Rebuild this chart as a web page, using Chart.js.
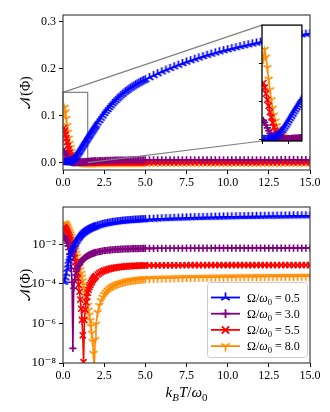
<!DOCTYPE html>
<html>
<head>
<meta charset="utf-8">
<script src="https://cdn.jsdelivr.net/npm/chart.js@4.4.0/dist/chart.umd.min.js"></script>
<style>
  html, body { margin: 0; padding: 0; background: #fff; }
  #wrap { position: relative; width: 330px; height: 412px; }
  canvas { position: absolute; }
  #top { left: 0; top: 0; }
  #bot { left: 0; top: 200px; }
  #ins { left: 252px; top: 19px; }
</style>
</head>
<body>
<div id="wrap">
  <canvas id="top" width="330" height="200"></canvas>
  <canvas id="bot" width="330" height="212"></canvas>
  <canvas id="ins" width="56" height="130"></canvas>
</div>
<script>
// temperature k_B T / w0
const kT = [
  0.05, 0.1, 0.15, 0.2, 0.25, 0.3, 0.35, 0.4, 0.45, 0.5,
  0.55, 0.6, 0.65, 0.7, 0.75, 0.8, 0.85, 0.9, 0.95, 1.0,
  1.05, 1.1, 1.15, 1.2, 1.25, 1.3, 1.35, 1.4, 1.45, 1.5,
  1.55, 1.6, 1.65, 1.7, 1.75, 1.8, 1.85, 1.9, 1.95, 2.0,
  2.1, 2.2, 2.3, 2.4, 2.5, 2.6, 2.7, 2.8, 2.9, 3.0,
  3.1, 3.2, 3.3, 3.4, 3.5, 3.6, 3.7, 3.8, 3.9, 4.0,
  4.1, 4.2, 4.3, 4.4, 4.5, 4.6, 4.7, 4.8, 4.9, 5.0,
  5.25, 5.5, 5.75, 6, 6.25, 6.5, 6.75, 7, 7.25, 7.5,
  7.75, 8, 8.25, 8.5, 8.75, 9, 9.25, 9.5, 9.75, 10,
  10.25, 10.5, 10.75, 11, 11.25, 11.5, 11.75, 12, 12.25, 12.5,
  12.75, 13, 13.25, 13.5, 13.75, 14, 14.25, 14.5, 14.75, 15
];

const omega = ['0.5', '3.0', '5.5', '8.0'];

// negativity N(Phi) for each Omega/w0
const negW05 = [
  1.2e-4, 1.4e-4, 2.0e-4, 3.2e-4, 5.5e-4, 9e-4, 1.4e-3, 2.0e-3, 2.8e-3, 3.8e-3,
  5.0e-3, 6.4e-3, 8.0e-3, 9.8e-3, 0.0118, 0.014, 0.0164, 0.019, 0.0218, 0.0248,
  0.0277, 0.0306, 0.0334, 0.0362, 0.039, 0.0418, 0.0446, 0.0474, 0.0502, 0.053,
  0.0557, 0.0584, 0.0611, 0.0638, 0.0665, 0.0692, 0.0719, 0.0746, 0.0773, 0.080,
  0.085, 0.090, 0.095, 0.100, 0.105, 0.1093, 0.1135, 0.1177, 0.1218, 0.126,
  0.1295, 0.133, 0.1365, 0.1398, 0.143, 0.146, 0.1489, 0.1517, 0.1544, 0.157,
  0.1593, 0.1616, 0.1638, 0.1659, 0.168, 0.170, 0.1719, 0.1737, 0.1754, 0.177,
  0.1815, 0.1858, 0.1899, 0.1938, 0.1976, 0.2012, 0.2047, 0.2081, 0.2114, 0.2146,
  0.2177, 0.2207, 0.2236, 0.2264, 0.2291, 0.2317, 0.2342, 0.2366, 0.2389, 0.2411,
  0.2433, 0.2454, 0.2475, 0.2495, 0.2515, 0.2534, 0.2553, 0.2571, 0.2589, 0.2606,
  0.2622, 0.2638, 0.2654, 0.2669, 0.2684, 0.2699, 0.2713, 0.2727, 0.2741, 0.2754
];
const negW30 = [
  0.025, 0.0225, 0.019, 0.0152, 0.0115, 0.0082, 0.0054, 0.0032, 0.0016, 6e-4,
  1.2e-4, 5.5e-8, 6e-5, 1.6e-4, 2.8e-4, 4.2e-4, 5.6e-4, 7e-4, 8.5e-4, 1.0e-3,
  1.16e-3, 1.32e-3, 1.48e-3, 1.64e-3, 1.8e-3, 1.96e-3, 2.12e-3, 2.28e-3, 2.43e-3, 2.58e-3,
  2.73e-3, 2.87e-3, 3.01e-3, 3.14e-3, 3.27e-3, 3.39e-3, 3.51e-3, 3.62e-3, 3.73e-3, 3.84e-3,
  4.04e-3, 4.22e-3, 4.39e-3, 4.55e-3, 4.69e-3, 4.82e-3, 4.94e-3, 5.05e-3, 5.15e-3, 5.24e-3,
  5.32e-3, 5.4e-3, 5.47e-3, 5.54e-3, 5.6e-3, 5.66e-3, 5.71e-3, 5.76e-3, 5.81e-3, 5.85e-3,
  5.89e-3, 5.93e-3, 5.96e-3, 5.99e-3, 6.02e-3, 6.05e-3, 6.08e-3, 6.1e-3, 6.12e-3, 6.14e-3,
  6.16e-3, 6.18e-3, 6.2e-3, 6.21e-3, 6.22e-3, 6.23e-3, 6.24e-3, 6.25e-3, 6.26e-3, 6.27e-3,
  6.28e-3, 6.28e-3, 6.29e-3, 6.29e-3, 6.3e-3, 6.3e-3, 6.31e-3, 6.31e-3, 6.31e-3, 6.32e-3,
  6.32e-3, 6.32e-3, 6.33e-3, 6.33e-3, 6.33e-3, 6.33e-3, 6.34e-3, 6.34e-3, 6.34e-3, 6.34e-3,
  6.34e-3, 6.35e-3, 6.35e-3, 6.35e-3, 6.35e-3, 6.35e-3, 6.35e-3, 6.36e-3, 6.36e-3, 6.36e-3
];
const negW55 = [
  0.074, 0.068, 0.060, 0.052, 0.044, 0.036, 0.029, 0.022, 0.016, 0.0115,
  0.008, 0.0053, 0.0034, 0.0021, 0.00125, 7e-4, 3.8e-4, 1.9e-4, 9e-5, 4e-5,
  1.6e-5, 5.5e-6, 1.5e-6, 2.5e-7, 1.1e-8, 1.5e-6, 5e-6, 1.2e-5, 2.2e-5, 3.5e-5,
  5e-5, 6.8e-5, 8.7e-5, 1.08e-4, 1.3e-4, 1.53e-4, 1.77e-4, 2.0e-4, 2.24e-4, 2.48e-4,
  2.95e-4, 3.4e-4, 3.83e-4, 4.23e-4, 4.6e-4, 4.95e-4, 5.27e-4, 5.57e-4, 5.85e-4, 6.1e-4,
  6.33e-4, 6.55e-4, 6.75e-4, 6.93e-4, 7.1e-4, 7.26e-4, 7.4e-4, 7.53e-4, 7.65e-4, 7.76e-4,
  7.86e-4, 7.95e-4, 8.03e-4, 8.1e-4, 8.17e-4, 8.23e-4, 8.29e-4, 8.34e-4, 8.39e-4, 8.43e-4,
  8.47e-4, 8.5e-4, 8.53e-4, 8.56e-4, 8.58e-4, 8.6e-4, 8.62e-4, 8.64e-4, 8.66e-4, 8.67e-4,
  8.69e-4, 8.7e-4, 8.71e-4, 8.72e-4, 8.73e-4, 8.74e-4, 8.75e-4, 8.76e-4, 8.77e-4, 8.77e-4,
  8.78e-4, 8.78e-4, 8.79e-4, 8.79e-4, 8.8e-4, 8.8e-4, 8.81e-4, 8.81e-4, 8.81e-4, 8.82e-4,
  8.82e-4, 8.82e-4, 8.83e-4, 8.83e-4, 8.83e-4, 8.83e-4, 8.84e-4, 8.84e-4, 8.84e-4, 8.84e-4
];
const negW80 = [
  0.105, 0.118, 0.108, 0.094, 0.079, 0.065, 0.052, 0.041, 0.032, 0.024,
  0.018, 0.0133, 0.0097, 0.007, 0.005, 0.0035, 0.0024, 0.00165, 0.00112, 7.5e-4,
  5e-4, 3.3e-4, 2.15e-4, 1.4e-4, 9e-5, 5.7e-5, 3.6e-5, 2.2e-5, 1.35e-5, 8e-6,
  4.6e-6, 2.6e-6, 1.4e-6, 7e-7, 3.2e-7, 1.2e-7, 3e-8, 4e-9, 1.5e-7, 9e-7,
  3.5e-6, 8e-6, 1.4e-5, 2.1e-5, 2.9e-5, 3.7e-5, 4.6e-5, 5.5e-5, 6.4e-5, 7.3e-5,
  8.1e-5, 8.9e-5, 9.7e-5, 1.04e-4, 1.11e-4, 1.18e-4, 1.24e-4, 1.30e-4, 1.36e-4, 1.41e-4,
  1.46e-4, 1.51e-4, 1.55e-4, 1.59e-4, 1.63e-4, 1.67e-4, 1.71e-4, 1.74e-4, 1.77e-4, 1.80e-4,
  1.84e-4, 1.87e-4, 1.90e-4, 1.93e-4, 1.96e-4, 1.98e-4, 2.00e-4, 2.03e-4, 2.05e-4, 2.07e-4,
  2.09e-4, 2.11e-4, 2.12e-4, 2.14e-4, 2.16e-4, 2.17e-4, 2.19e-4, 2.20e-4, 2.22e-4, 2.23e-4,
  2.24e-4, 2.25e-4, 2.26e-4, 2.27e-4, 2.28e-4, 2.29e-4, 2.30e-4, 2.31e-4, 2.32e-4, 2.33e-4,
  2.34e-4, 2.35e-4, 2.35e-4, 2.36e-4, 2.37e-4, 2.37e-4, 2.38e-4, 2.39e-4, 2.39e-4, 2.40e-4
];

const xTicks = [0, 2.5, 5, 7.5, 10, 12.5, 15];
const linTicks = [0, 0.1, 0.2, 0.3];
const logTicks = [1e-8, 1e-6, 1e-4, 1e-2];
const insetX = [0, 1.5];
const insetY = [0, 0.15];
const insetXTicks = [0, 1];
const insetYTicks = [0, 0.05, 0.1];

const colors = ['#0000ff', '#800080', '#ff0000', '#ff8c00'];
const SERIF = '"Liberation Serif", "DejaVu Serif", serif';

// matplotlib-like tri markers ('2' = tri_up, '1' = tri_down)
function triMarker(color, up, r) {
  const c = document.createElement('canvas');
  c.width = 11; c.height = 11;
  const g = c.getContext('2d');
  g.strokeStyle = color;
  g.lineWidth = 1.7;
  const cx = 5.5, cy = 5.5, s = up ? -1 : 1;
  g.beginPath();
  g.moveTo(cx, cy); g.lineTo(cx, cy + s * r);
  g.moveTo(cx, cy); g.lineTo(cx - 0.866 * r, cy - s * 0.5 * r);
  g.moveTo(cx, cy); g.lineTo(cx + 0.866 * r, cy - s * 0.5 * r);
  g.stroke();
  return c;
}
const markers = [triMarker(colors[0], true, 4.6), 'cross', 'crossRot', triMarker(colors[3], false, 4.6)];
const legendMarkers = [triMarker(colors[0], true, 5), 'cross', 'crossRot', triMarker(colors[3], false, 5)];
const radii = [4.5, 3.6, 4.3, 4.5];
const series = [negW05, negW30, negW55, negW80];

function makeDatasets() {
  return series.map((s, k) => ({
    label: 'Ω/ω₀ = ' + omega[k],
    data: kT.map((x, i) => ({ x: x, y: s[i] })),
    borderColor: colors[k],
    backgroundColor: colors[k],
    borderWidth: 1.6,
    pointStyle: markers[k],
    pointRadius: radii[k],
    pointBorderColor: colors[k],
    pointBackgroundColor: colors[k],
    pointBorderWidth: 1.6,
    clip: 0
  }));
}

function sup(n) {
  const m = { '-': '⁻', '0': '⁰', '1': '¹', '2': '²', '3': '³', '4': '⁴', '5': '⁵', '6': '⁶', '7': '⁷', '8': '⁸', '9': '⁹' };
  return String(n).split('').map(ch => m[ch]).join('');
}

// draw text with italic / subscript parts
function richText(ctx, parts, x, y, size, align) {
  const fontOf = p => (p.it ? 'italic ' : '') + (p.sub ? size * 0.72 : size).toFixed(1) + 'px ' + SERIF;
  let w = 0;
  parts.forEach(p => { ctx.font = fontOf(p); w += ctx.measureText(p.t).width; });
  let cx = align === 'center' ? x - w / 2 : x;
  ctx.textAlign = 'left';
  ctx.textBaseline = 'alphabetic';
  parts.forEach(p => {
    ctx.font = fontOf(p);
    ctx.fillText(p.t, cx, y + (p.sub ? size * 0.25 : 0));
    cx += ctx.measureText(p.t).width;
  });
}

const framePlugin = {
  id: 'frame',
  afterDatasetsDraw(chart, args, opts) {
    const a = chart.chartArea, ctx = chart.ctx;
    ctx.save();
    ctx.strokeStyle = opts.color;
    ctx.lineWidth = opts.width;
    ctx.strokeRect(a.left, a.top, a.right - a.left, a.bottom - a.top);
    ctx.restore();
  }
};

function xAxis(min, max, ticks, height, labels) {
  return {
    type: 'linear', min: min, max: max,
    afterBuildTicks: s => { s.ticks = ticks.map(v => ({ value: v })); },
    ticks: {
      callback: v => labels ? v.toFixed(1) : '',
      font: { family: SERIF, size: 12 }, color: '#000', padding: 2, maxRotation: 0, autoSkip: false
    },
    grid: { drawOnChartArea: false, tickLength: labels ? 4 : 3, tickColor: '#000', tickWidth: 1 },
    border: { display: false },
    afterFit: s => { s.height = height; s.paddingLeft = 0; s.paddingRight = 0; }
  };
}

const tickFont = { family: SERIF, size: 12 };
const titleFont = { family: SERIF, size: 14 };

// ---------- inset ----------
const insetChart = new Chart(document.getElementById('ins'), {
  type: 'line',
  data: { datasets: makeDatasets() },
  options: {
    responsive: false, animation: false, events: [],
    layout: { padding: { left: 0, right: 4, top: 2, bottom: 0 } },
    plugins: { legend: { display: false }, tooltip: { enabled: false }, frame: { color: '#000', width: 1.3 } },
    scales: {
      x: xAxis(insetX[0], insetX[1], insetXTicks, 8, false),
      y: {
        type: 'linear', min: insetY[0] - 0.002, max: insetY[1],
        afterBuildTicks: s => { s.ticks = insetYTicks.map(v => ({ value: v })); },
        ticks: { callback: () => '', padding: 0, autoSkip: false },
        grid: { drawOnChartArea: false, tickLength: 3, tickColor: '#000', tickWidth: 1 },
        border: { display: false },
        afterFit: s => { s.width = 10; s.paddingTop = 0; s.paddingBottom = 0; }
      }
    }
  },
  plugins: [framePlugin, {
    id: 'insetBg',
    beforeDatasetsDraw(chart) {
      const a = chart.chartArea;
      chart.ctx.save();
      chart.ctx.fillStyle = '#fff';
      chart.ctx.fillRect(a.left, a.top, a.right - a.left, a.bottom - a.top);
      chart.ctx.restore();
    }
  }]
});

// ---------- top: linear ----------
const zoomPlugin = {
  id: 'zoomMark',
  beforeDatasetsDraw(chart) {
    const { x, y } = chart.scales, ctx = chart.ctx;
    const l = x.getPixelForValue(insetX[0]), r = x.getPixelForValue(insetX[1]);
    const t = y.getPixelForValue(insetY[1]), b = y.getPixelForValue(insetY[0]);
    ctx.save();
    ctx.strokeStyle = '#808080';
    ctx.lineWidth = 1.2;
    ctx.strokeRect(l, t, r - l, b - t);
    ctx.restore();
  },
  afterDatasetsDraw(chart) {
    const { x, y } = chart.scales, ctx = chart.ctx;
    const el = document.getElementById('ins');
    const ia = insetChart.chartArea;
    const il = el.offsetLeft + ia.left, it = el.offsetTop + ia.top, ib = el.offsetTop + ia.bottom;
    ctx.save();
    ctx.strokeStyle = '#808080';
    ctx.lineWidth = 1.2;
    ctx.beginPath();
    ctx.moveTo(x.getPixelForValue(insetX[0]), y.getPixelForValue(insetY[1]));
    ctx.lineTo(il, it);
    ctx.moveTo(x.getPixelForValue(insetX[1]), y.getPixelForValue(insetY[0]));
    ctx.lineTo(il, ib);
    ctx.stroke();
    ctx.restore();
  }
};

new Chart(document.getElementById('top'), {
  type: 'line',
  data: { datasets: makeDatasets() },
  options: {
    responsive: false, animation: false, events: [],
    layout: { padding: { left: 0, right: 20, top: 15, bottom: 0 } },
    plugins: { legend: { display: false }, tooltip: { enabled: false }, frame: { color: '#444', width: 1.2 } },
    scales: {
      x: xAxis(0, 15, xTicks, 30, true),
      y: {
        type: 'linear', min: -0.01556, max: 0.3149,
        afterBuildTicks: s => { s.ticks = linTicks.map(v => ({ value: v })); },
        ticks: { callback: v => v.toFixed(1), font: tickFont, color: '#000', padding: 3, autoSkip: false },
        grid: { drawOnChartArea: false, tickLength: 4, tickColor: '#000', tickWidth: 1 },
        border: { display: false },
        title: { display: true, text: '𝒩(Φ)', font: titleFont, color: '#000', padding: { top: 18, bottom: 0 } },
        afterFit: s => { s.width = 63; s.paddingTop = 0; s.paddingBottom = 0; }
      }
    }
  },
  plugins: [zoomPlugin, framePlugin]
});

// ---------- bottom: log ----------
const legendPlugin = {
  id: 'insideLegend',
  afterDraw(chart) {
    const ctx = chart.ctx, a = chart.chartArea;
    const w = 100, h = 75;
    const bx = a.right - 3 - w, by = a.bottom - 6 - h;
    ctx.save();
    ctx.fillStyle = 'rgba(255,255,255,0.8)';
    ctx.strokeStyle = '#cccccc';
    ctx.lineWidth = 1;
    ctx.beginPath();
    ctx.roundRect(bx + 0.5, by + 0.5, w, h, 3);
    ctx.fill();
    ctx.stroke();
    chart.data.datasets.forEach((ds, k) => {
      const ry = by + 15.5 + k * 16.2;
      ctx.strokeStyle = ds.borderColor;
      ctx.lineWidth = 1.8;
      ctx.beginPath();
      ctx.moveTo(bx + 4, ry);
      ctx.lineTo(bx + 33, ry);
      ctx.stroke();
      ctx.fillStyle = ds.borderColor;
      ctx.lineWidth = 1.8;
      Chart.helpers.drawPoint(ctx, { pointStyle: legendMarkers[k], radius: ds.pointRadius + 0.8, borderWidth: 1.8, rotation: 0 }, bx + 18.5, ry);
      ctx.fillStyle = '#000';
      richText(ctx, [
        { t: 'Ω/' }, { t: 'ω', it: true }, { t: '0', sub: true }, { t: ' = ' + omega[k] }
      ], bx + 40, ry + 4, 12, 'left');
    });
    ctx.restore();
  }
};

const xTitlePlugin = {
  id: 'xTitle',
  afterDraw(chart) {
    const ctx = chart.ctx, a = chart.chartArea;
    ctx.save();
    ctx.fillStyle = '#000';
    richText(ctx, [
      { t: 'k', it: true }, { t: 'B', it: true, sub: true }, { t: 'T', it: true }, { t: '/' },
      { t: 'ω', it: true }, { t: '0', sub: true }
    ], (a.left + a.right) / 2, a.bottom + 34, 15, 'center');
    ctx.restore();
  }
};

new Chart(document.getElementById('bot'), {
  type: 'line',
  data: { datasets: makeDatasets() },
  options: {
    responsive: false, animation: false, events: [],
    layout: { padding: { left: 0, right: 20, top: 7, bottom: 0 } },
    plugins: { legend: { display: false }, tooltip: { enabled: false }, frame: { color: '#444', width: 1.2 } },
    scales: {
      x: xAxis(0, 15, xTicks, 49, true),
      y: {
        type: 'logarithmic', min: 1e-8, max: 0.757,
        afterBuildTicks: s => { s.ticks = logTicks.map(v => ({ value: v })); },
        ticks: { callback: v => '10' + sup(Math.round(Math.log10(v))), font: { family: SERIF, size: 13 }, color: '#000', padding: 3, autoSkip: false },
        grid: { drawOnChartArea: false, tickLength: 4, tickColor: '#000', tickWidth: 1 },
        border: { display: false },
        title: { display: true, text: '𝒩(Φ)', font: titleFont, color: '#000', padding: { top: 18, bottom: 0 } },
        afterFit: s => { s.width = 63; s.paddingTop = 0; s.paddingBottom = 0; }
      }
    }
  },
  plugins: [framePlugin, legendPlugin, xTitlePlugin]
});
</script>
</body>
</html>
